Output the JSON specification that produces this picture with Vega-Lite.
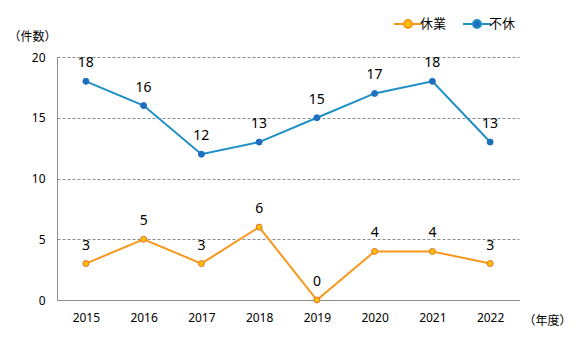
{
  "$schema": "https://vega.github.io/schema/vega-lite/v6.json",
  "width": 462,
  "height": 243,
  "autosize": {"type": "none"},
  "padding": {"left": 57, "top": 57, "right": 63, "bottom": 44},
  "background": "white",
  "config": {
    "font": "'Noto Sans', 'Noto Sans CJK JP', sans-serif",
    "view": {"stroke": null}
  },
  "data": {
    "values": [
      {"year": "2015", "type": "不休", "count": 18},
      {"year": "2016", "type": "不休", "count": 16},
      {"year": "2017", "type": "不休", "count": 12},
      {"year": "2018", "type": "不休", "count": 13},
      {"year": "2019", "type": "不休", "count": 15},
      {"year": "2020", "type": "不休", "count": 17},
      {"year": "2021", "type": "不休", "count": 18},
      {"year": "2022", "type": "不休", "count": 13},
      {"year": "2015", "type": "休業", "count": 3},
      {"year": "2016", "type": "休業", "count": 5},
      {"year": "2017", "type": "休業", "count": 3},
      {"year": "2018", "type": "休業", "count": 6},
      {"year": "2019", "type": "休業", "count": 0},
      {"year": "2020", "type": "休業", "count": 4},
      {"year": "2021", "type": "休業", "count": 4},
      {"year": "2022", "type": "休業", "count": 3}
    ]
  },
  "encoding": {
    "x": {
      "field": "year", "type": "ordinal",
      "scale": {"type": "point", "padding": 0.5},
      "axis": {
        "title": "（年度）", "labelAngle": 0, "labelFontSize": 12, "labelColor": "#000",
        "labelPadding": 12, "ticks": false, "domain": true, "domainColor": "#8c8c8c", "domainWidth": 1,
        "titleFontSize": 12, "titleFontWeight": "normal", "titleColor": "#000",
        "titleX": 490, "titleY": 20, "titleBaseline": "middle", "titleAlign": "center"
      }
    },
    "y": {
      "field": "count", "type": "quantitative",
      "scale": {"domain": [0, 20]},
      "axis": {
        "title": "（件数）", "titleAngle": 0, "titleX": -25, "titleY": -21,
        "titleAlign": "center", "titleBaseline": "middle",
        "titleFontSize": 12, "titleFontWeight": "normal", "titleColor": "#000",
        "values": [0, 5, 10, 15, 20], "labelFontSize": 12, "labelColor": "#000",
        "labelPadding": 12, "ticks": false, "domain": true, "domainColor": "#8c8c8c", "domainWidth": 1,
        "grid": true, "gridDash": [3, 2], "gridColor": "#8c8c8c", "gridWidth": 1
      }
    }
  },
  "layer": [
    {
      "mark": {"type": "line", "strokeWidth": 2},
      "encoding": {
        "color": {
          "field": "type", "type": "nominal",
          "scale": {"domain": ["休業", "不休"], "range": ["#F7981D", "#1E8FC6"]},
          "legend": {
            "title": null, "orient": "none", "direction": "horizontal",
            "legendX": 343, "legendY": -41,
            "symbolType": "M-2,0H-0.57M0.57,0H2M0.57,0A0.57,0.57,0,1,1,-0.57,0A0.57,0.57,0,1,1,0.57,0Z",
            "symbolSize": 196, "symbolStrokeWidth": 2, "labelFontSize": 13, "labelColor": "#000",
            "labelOffset": 4, "columnPadding": 12
          }
        }
      }
    },
    {
      "mark": {"type": "point", "filled": true, "size": 36, "strokeWidth": 1, "opacity": 1},
      "encoding": {
        "fill": {
          "field": "type", "type": "nominal",
          "scale": {"domain": ["休業", "不休"], "range": ["#FFC000", "#1E6FBF"]},
          "legend": {
            "title": null, "orient": "none", "direction": "horizontal",
            "legendX": 343, "legendY": -41,
            "symbolType": "M-2,0H-0.57M0.57,0H2M0.57,0A0.57,0.57,0,1,1,-0.57,0A0.57,0.57,0,1,1,0.57,0Z",
            "symbolSize": 196, "symbolStrokeWidth": 2, "labelFontSize": 13, "labelColor": "#000",
            "labelOffset": 4, "columnPadding": 12
          }
        },
        "stroke": {
          "field": "type", "type": "nominal",
          "scale": {"domain": ["休業", "不休"], "range": ["#E2703A", "#1E6FBF"]},
          "legend": null
        }
      }
    },
    {
      "mark": {"type": "text", "dy": -18, "fontSize": 14, "color": "#000", "baseline": "middle"},
      "encoding": {"text": {"field": "count", "type": "quantitative"}}
    }
  ]
}
